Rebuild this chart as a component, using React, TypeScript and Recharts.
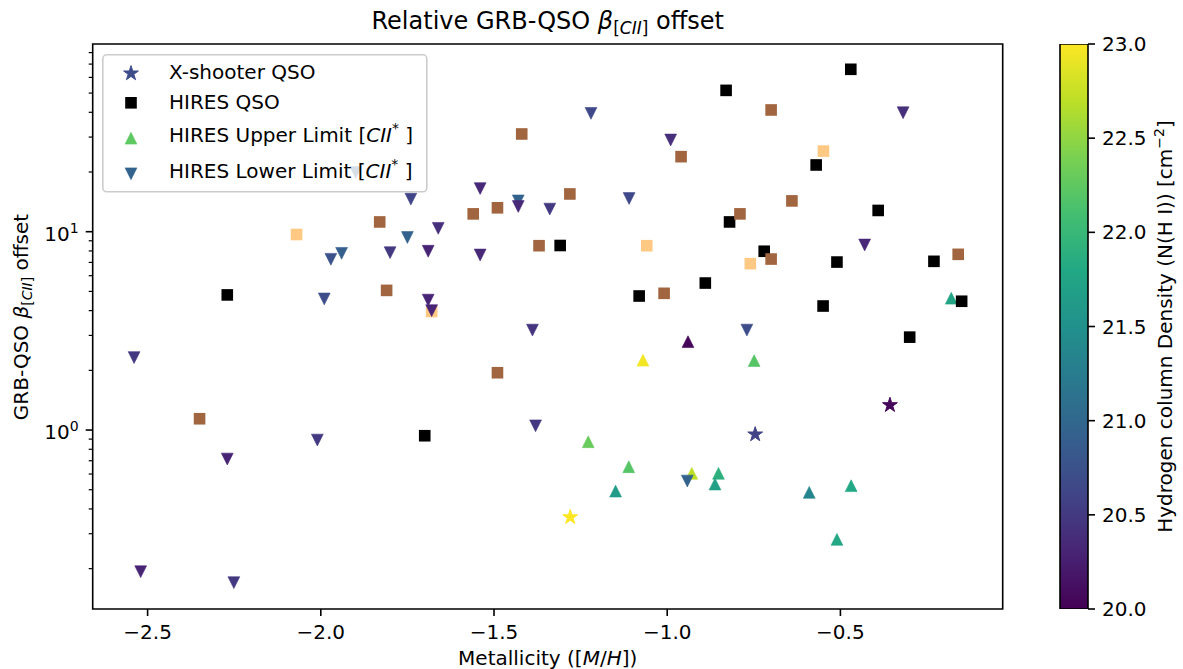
import React from 'react';
import { ScatterChart, Scatter, XAxis, YAxis, Legend, ReferenceArea, BarChart, Bar } from 'recharts';

const FONT = 'DejaVu Sans, Liberation Sans, sans-serif';

const X_MIN = -2.6585;
const X_MAX = -0.0315;
const Y_MIN = 0.1252;
const Y_MAX = 88.4;

const xTicks = [-2.5, -2.0, -1.5, -1.0, -0.5];
const yTicks = [0.2, 0.3, 0.4, 0.5, 0.6, 0.7, 0.8, 0.9, 1, 2, 3, 4, 5, 6, 7, 8, 9, 10, 20, 30, 40, 50, 60, 70, 80];
const cbTicks = [20, 20.5, 21, 21.5, 22, 22.5, 23];

// metallicity m, offset b, log N(HI) nh
const hiresQso = [
  { m: -0.47, b: 65.9 }, { m: -0.83, b: 51.6 }, { m: -0.57, b: 21.7 }, { m: -0.82, b: 11.2 },
  { m: -0.391, b: 12.8 }, { m: -2.27, b: 4.8 }, { m: -1.309, b: 8.52 }, { m: -1.081, b: 4.74 },
  { m: -0.89, b: 5.51 }, { m: -0.72, b: 7.97 }, { m: -0.51, b: 7.03 }, { m: -0.23, b: 7.09 },
  { m: -0.15, b: 4.46 }, { m: -0.55, b: 4.22 }, { m: -0.3, b: 2.94 }, { m: -1.7, b: 0.936 },
];

const brownSquares = [
  { m: -1.83, b: 11.2 }, { m: -1.42, b: 31.1 }, { m: -0.96, b: 23.9 }, { m: -1.281, b: 15.5 },
  { m: -1.49, b: 13.2 }, { m: -1.56, b: 12.3 }, { m: -0.7, b: 41.1 }, { m: -0.64, b: 14.3 },
  { m: -0.79, b: 12.3 }, { m: -1.81, b: 5.06 }, { m: -2.35, b: 1.14 }, { m: -1.37, b: 8.5 },
  { m: -1.009, b: 4.89 }, { m: -1.49, b: 1.945 }, { m: -0.7, b: 7.28 }, { m: -0.16, b: 7.69 },
];

const tanSquares = [
  { m: -2.07, b: 9.68 }, { m: -1.68, b: 3.96 }, { m: -1.059, b: 8.5 }, { m: -0.76, b: 6.9 }, { m: -0.549, b: 25.5 },
];

const lowerLimits = [
  { m: -2.539, b: 2.32, nh: 20.5 }, { m: -2.52, b: 0.193, nh: 20.3 }, { m: -2.27, b: 0.714, nh: 20.3 },
  { m: -2.251, b: 0.17, nh: 20.5 }, { m: -2.01, b: 0.89, nh: 20.5 }, { m: -1.99, b: 4.58, nh: 20.7 },
  { m: -1.971, b: 7.26, nh: 20.75 }, { m: -1.94, b: 7.78, nh: 20.9 }, { m: -1.899, b: 19.9, nh: 20.9 },
  { m: -1.8, b: 7.84, nh: 20.5 }, { m: -1.75, b: 9.35, nh: 20.95 }, { m: -1.74, b: 14.6, nh: 20.6 },
  { m: -1.69, b: 7.97, nh: 20.3 }, { m: -1.69, b: 4.52, nh: 20.3 }, { m: -1.68, b: 4.0, nh: 20.3 },
  { m: -1.661, b: 10.4, nh: 20.4 }, { m: -1.54, b: 16.5, nh: 20.35 }, { m: -1.54, b: 7.63, nh: 20.35 },
  { m: -1.43, b: 14.3, nh: 20.95 }, { m: -1.43, b: 13.4, nh: 20.35 }, { m: -1.389, b: 3.19, nh: 20.45 },
  { m: -1.38, b: 1.05, nh: 20.5 }, { m: -1.339, b: 13.0, nh: 20.5 }, { m: -1.22, b: 39.5, nh: 20.65 },
  { m: -1.11, b: 14.7, nh: 20.65 }, { m: -0.99, b: 29.0, nh: 20.4 }, { m: -0.942, b: 0.553, nh: 20.95 },
  { m: -0.77, b: 3.19, nh: 20.7 }, { m: -0.43, b: 8.57, nh: 20.35 }, { m: -0.319, b: 39.8, nh: 20.4 },
];

const upperLimits = [
  { m: -1.228, b: 0.873, nh: 22.3 }, { m: -1.149, b: 0.492, nh: 21.65 }, { m: -1.111, b: 0.653, nh: 22.2 },
  { m: -1.07, b: 2.25, nh: 22.95 }, { m: -0.94, b: 2.79, nh: 20.05 }, { m: -0.929, b: 0.605, nh: 22.7 },
  { m: -0.852, b: 0.605, nh: 21.9 }, { m: -0.862, b: 0.534, nh: 21.7 }, { m: -0.749, b: 2.24, nh: 22.2 },
  { m: -0.59, b: 0.485, nh: 21.35 }, { m: -0.51, b: 0.281, nh: 21.8 }, { m: -0.469, b: 0.524, nh: 21.8 },
  { m: -0.18, b: 4.62, nh: 21.75 },
];

const xshooterQso = [
  { m: -1.28, b: 0.366, nh: 23.0 }, { m: -0.746, b: 0.957, nh: 20.6 }, { m: -0.357, b: 1.345, nh: 20.05 },
];

const colorbarData = [{ n: 'cb', v: 23 }];

const VIRIDIS = ['#440154', '#482475', '#414487', '#355f8d', '#2a788e', '#21918c', '#22a884', '#44bf70', '#7ad151', '#bddf26', '#fde725'];

function hexRgb(h: string) {
  return [parseInt(h.slice(1, 3), 16), parseInt(h.slice(3, 5), 16), parseInt(h.slice(5, 7), 16)];
}

function viridis(nh: number) {
  const t = Math.min(1, Math.max(0, (nh - 20) / 3)) * 10;
  const i = Math.min(9, Math.floor(t));
  const f = t - i;
  const a = hexRgb(VIRIDIS[i]);
  const b = hexRgb(VIRIDIS[i + 1]);
  const c = a.map((v, k) => Math.round(v + (b[k] - v) * f));
  return `rgb(${c[0]},${c[1]},${c[2]})`;
}

const BROWN = '#a1653f';
const TAN = '#ffc983';

function starPath(cx: number, cy: number, R: number) {
  const r = R * 0.381966;
  let d = '';
  for (let k = 0; k < 10; k++) {
    const rad = k % 2 === 0 ? R : r;
    const ang = -Math.PI / 2 + (k * Math.PI) / 5;
    d += (k === 0 ? 'M' : 'L') + (cx + rad * Math.cos(ang)).toFixed(2) + ',' + (cy + rad * Math.sin(ang)).toFixed(2);
  }
  return d + 'Z';
}

function Marker({ kind, cx, cy, fill }: { kind: string; cx: number; cy: number; fill: string }) {
  if (kind === 'square') {
    return <rect x={cx - 5.8} y={cy - 5.8} width={11.6} height={11.6} fill={fill} />;
  }
  if (kind === 'down') {
    const h = 5.9;
    return <path d={`M${cx - h},${cy - h}L${cx + h},${cy - h}L${cx},${cy + h}Z`} fill={fill} stroke={fill} strokeWidth={0.6} strokeLinejoin="round" />;
  }
  if (kind === 'up') {
    const h = 5.9;
    return <path d={`M${cx - h},${cy + h}L${cx + h},${cy + h}L${cx},${cy - h}Z`} fill={fill} stroke={fill} strokeWidth={0.6} strokeLinejoin="round" />;
  }
  return <path d={starPath(cx, cy + 0.6, 7.8)} fill={fill} stroke={fill} strokeWidth={1} strokeLinejoin="round" />;
}

const XTick = (props: any) => {
  const { x, y, payload } = props;
  const label = payload.value.toFixed(1).replace('-', '\u2212');
  return (
    <g>
      <line x1={x} x2={x} y1={y} y2={y + 7} stroke="#000" strokeWidth={1.6} />
      <text x={x} y={y + 30} textAnchor="middle" fontSize={20} fontFamily={FONT} fill="#000">{label}</text>
    </g>
  );
};

const YTick = (props: any) => {
  const { x, y, payload } = props;
  const v = payload.value;
  const major = v === 1 || v === 10;
  return (
    <g>
      <line x1={x - (major ? 7 : 4)} x2={x} y1={y} y2={y} stroke="#000" strokeWidth={major ? 1.6 : 1.2} />
      {major && (
        <text x={x - 14} y={y + 9} textAnchor="end" fontSize={20} fontFamily={FONT} fill="#000">
          10<tspan dy={-8} fontSize={14}>{v === 1 ? '0' : '1'}</tspan>
        </text>
      )}
    </g>
  );
};

const CbTick = (props: any) => {
  const { x, y, payload } = props;
  return (
    <g>
      <line x1={x} x2={x + 7} y1={y} y2={y} stroke="#000" strokeWidth={1.6} />
      <text x={x + 14} y={y + 7} fontSize={20} fontFamily={FONT} fill="#000">{payload.value.toFixed(1)}</text>
    </g>
  );
};

const legendRows = [
  { kind: 'star', color: '#3e4c8a', label: 'X-shooter QSO', limit: false },
  { kind: 'square', color: '#000000', label: 'HIRES QSO', limit: false },
  { kind: 'up', color: '#5ec962', label: 'HIRES Upper Limit [', limit: true },
  { kind: 'down', color: '#33638d', label: 'HIRES Lower Limit [', limit: true },
];
const legendMarkerY = [18.8, 48.8, 84.2, 119.8];
const legendTextY = [24.5, 54.5, 88.2, 123.8];

const renderLegend = () => (
  <svg width={327} height={140} style={{ display: 'block', fontFamily: FONT }}>
    <rect x={0.8} y={0.8} width={324} height={137} rx={4} fill="rgba(255,255,255,0.8)" stroke="#cccccc" strokeWidth={1.6} />
    {legendRows.map((r, i) => (
      <g key={r.label}>
        <Marker kind={r.kind} cx={29} cy={legendMarkerY[i]} fill={r.color} />
        <text x={67} y={legendTextY[i]} fontSize={20} fill="#000">
          {r.label}
          {r.limit && (
            <>
              <tspan fontStyle="italic">CII</tspan>
              <tspan dy={-9} fontSize={14}>*</tspan>
              <tspan dy={9}> ]</tspan>
            </>
          )}
        </text>
      </g>
    ))}
  </svg>
);

export default function App() {
  return (
    <div style={{ position: 'absolute', left: 0, top: 0, width: 1183, height: 669, background: '#fff', fontFamily: FONT }}>
      <ScatterChart width={1183} height={669} margin={{ top: 44, right: 180.3, bottom: 0, left: 0 }}>
        <XAxis
          type="number"
          dataKey="m"
          domain={[X_MIN, X_MAX]}
          ticks={xTicks}
          allowDataOverflow
          height={60}
          tickSize={0}
          tickMargin={0}
          tickLine={false}
          axisLine={false}
          tick={<XTick />}
          interval={0}
        />
        <YAxis
          type="number"
          dataKey="b"
          scale="log"
          domain={[Y_MIN, Y_MAX]}
          ticks={yTicks}
          allowDataOverflow
          width={92.7}
          tickSize={0}
          tickMargin={0}
          tickLine={false}
          axisLine={false}
          tick={<YTick />}
          interval={0}
        />
        <ReferenceArea x1={X_MIN} x2={X_MAX} y1={Y_MIN} y2={Y_MAX} fill="none" stroke="#000" strokeWidth={1.6} ifOverflow="visible" />
        <Scatter data={upperLimits} isAnimationActive={false}
          shape={(p: any) => <Marker kind="up" cx={p.cx} cy={p.cy} fill={viridis(p.payload.nh)} />} />
        <Scatter data={hiresQso} isAnimationActive={false}
          shape={(p: any) => <Marker kind="square" cx={p.cx} cy={p.cy} fill="#000" />} />
        <Scatter data={brownSquares} isAnimationActive={false}
          shape={(p: any) => <Marker kind="square" cx={p.cx} cy={p.cy} fill={BROWN} />} />
        <Scatter data={tanSquares} isAnimationActive={false}
          shape={(p: any) => <Marker kind="square" cx={p.cx} cy={p.cy} fill={TAN} />} />
        <Scatter data={lowerLimits} isAnimationActive={false}
          shape={(p: any) => <Marker kind="down" cx={p.cx} cy={p.cy} fill={viridis(p.payload.nh)} />} />
        <Scatter data={xshooterQso} isAnimationActive={false}
          shape={(p: any) => <Marker kind="star" cx={p.cx} cy={p.cy} fill={viridis(p.payload.nh)} />} />
        <Legend
          layout="vertical"
          align="center"
          verticalAlign="middle"
          content={renderLegend}
          wrapperStyle={{ left: 102, top: 53.5, width: 327, height: 140 }}
        />
        <text x={547.7} y={29} textAnchor="middle" fontSize={24} fontFamily={FONT} fill="#000">
          Relative GRB-QSO <tspan fontStyle="italic">β</tspan>
          <tspan dy={5} fontSize={17}>[<tspan fontStyle="italic">CII</tspan>]</tspan>
          <tspan dy={-5}> offset</tspan>
        </text>
        <text x={547.7} y={665} textAnchor="middle" fontSize={20} fontFamily={FONT} fill="#000">
          Metallicity ([<tspan fontStyle="italic">M</tspan>/<tspan fontStyle="italic">H</tspan>])
        </text>
        <text x={27.5} y={317} transform="rotate(-90, 27.5, 317)" textAnchor="middle" fontSize={20} fontFamily={FONT} fill="#000">
          GRB-QSO <tspan fontStyle="italic">β</tspan>
          <tspan dy={4} fontSize={14}>[<tspan fontStyle="italic">CII</tspan>]</tspan>
          <tspan dy={-4}> offset</tspan>
        </text>
      </ScatterChart>

      <div style={{ position: 'absolute', left: 1040, top: 0 }}>
        <BarChart width={143} height={669} data={colorbarData} margin={{ top: 44, right: 50, bottom: 60, left: 20 }} barCategoryGap={0}>
          <defs>
            <linearGradient id="viridisGrad" x1="0" y1="1" x2="0" y2="0">
              {VIRIDIS.map((c, i) => (
                <stop key={c} offset={`${i * 10}%`} stopColor={c} />
              ))}
            </linearGradient>
          </defs>
          <XAxis dataKey="n" hide />
          <YAxis
            orientation="right"
            type="number"
            domain={[20, 23]}
            ticks={cbTicks}
            allowDataOverflow
            width={45}
            tickSize={0}
            tickMargin={0}
            tickLine={false}
            axisLine={false}
            tick={<CbTick />}
            interval={0}
          />
          <Bar dataKey="v" fill="url(#viridisGrad)" stroke="#000" strokeWidth={1.6} isAnimationActive={false} />
          <text x={131.5} y={326.5} transform="rotate(-90, 131.5, 326.5)" textAnchor="middle" fontSize={20} fontFamily={FONT} fill="#000">
            Hydrogen column Density (N(H I)) [cm<tspan dy={-8} fontSize={14}>−2</tspan><tspan dy={8}>]</tspan>
          </text>
        </BarChart>
      </div>
    </div>
  );
}
